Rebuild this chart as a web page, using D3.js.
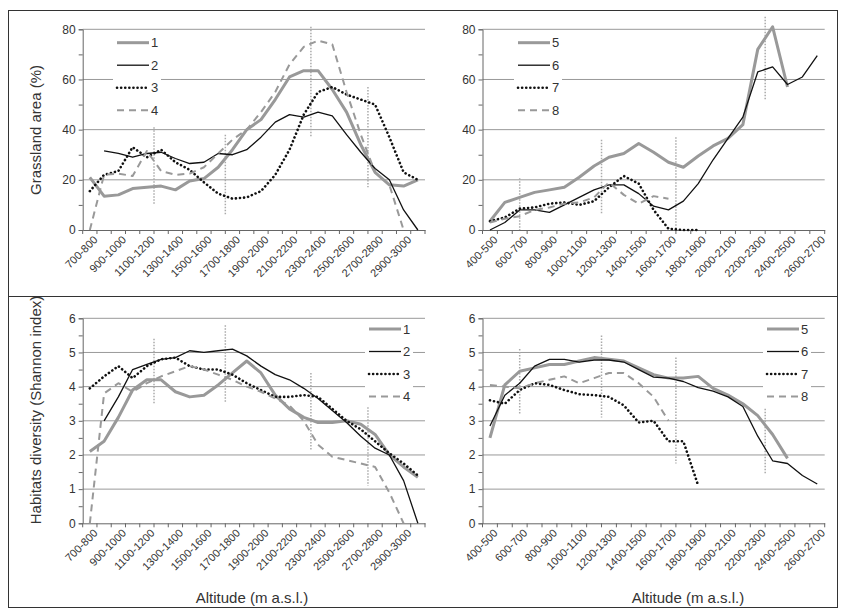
<!DOCTYPE html><html><head><meta charset="utf-8">
<script src="https://cdn.jsdelivr.net/npm/d3@7"></script>
<style>body{margin:0;background:#fff}text{font-family:"Liberation Sans",Arial,sans-serif;fill:#333}</style></head><body>
<svg id="c" width="841" height="611"></svg>
<script>
const catsL=["700-800","800-900","900-1000","1000-1100","1100-1200","1200-1300","1300-1400","1400-1500","1500-1600","1600-1700","1700-1800","1800-1900","1900-2000","2000-2100","2100-2200","2200-2300","2300-2400","2400-2500","2500-2600","2600-2700","2700-2800","2800-2900","2900-3000","3000-3100"];
const catsR=["400-500","500-600","600-700","700-800","800-900","900-1000","1000-1100","1100-1200","1200-1300","1300-1400","1400-1500","1500-1600","1600-1700","1700-1800","1800-1900","1900-2000","2000-2100","2100-2200","2200-2300","2300-2400","2400-2500","2500-2600","2600-2700"];
const g1=[21,13.5,14,16.5,17,17.5,16,19.5,20.5,25,32,40,44,52,61,63.5,63.5,56,47,34,23,18,17.5,20];
const g2=[null,31.5,30.5,29,30.5,31,28.5,26.5,27,30.5,30,32,37,43,46,45,47,45.5,38,31,24.5,20,8,0];
const g3=[15.5,22,23.5,33,29,32,27,24,19,14.5,12.5,13,15.5,22,32,46,55,57,54,52,50,37,23,20];
const g4=[0,22,22.5,21.5,31.5,23.5,22,22.5,25,30.5,36,40,47,55,66,73,75.5,74,55,38,23,18,0];
const g5=[3.5,11,13,15,16,17,21,25.5,29,30.5,34.5,31,27,25,29.5,33.5,36.5,42,72,81,57];
const g6=[0,3,8,8,7,10,13,16,18,18,14.5,9.5,8,11.5,18.5,28,36.5,45,63,65,58,61,69.5];
const g7=[3.5,5,8.5,9,10.5,11,10,11.5,17,21.5,18.5,8,0.5,0,0];
const g8=[3,4.5,5.5,8,9,10.5,11,13,19,14,10.5,13.5,12.5];
const h1=[2.1,2.4,3.1,3.9,4.2,4.2,3.85,3.7,3.75,4.05,4.4,4.75,4.4,3.75,3.35,3.1,2.95,2.95,3.0,2.9,2.6,2.0,1.65,1.35];
const h2=[null,3.0,3.7,4.5,4.65,4.8,4.85,5.05,5.0,5.05,5.1,4.9,4.6,4.35,4.2,3.95,3.65,3.3,2.95,2.55,2.2,2.0,1.25,0];
const h3=[3.95,4.3,4.6,4.25,4.6,4.8,4.85,4.6,4.5,4.5,4.35,4.1,3.9,3.7,3.7,3.75,3.7,3.35,3.0,2.75,2.4,2.05,1.75,1.4];
const h4=[0,3.8,4.1,3.85,4.1,4.3,4.45,4.6,4.5,4.35,4.2,4.0,3.85,3.65,3.45,3.0,2.3,1.95,1.85,1.75,1.65,0.9,0];
const h5=[2.5,4.05,4.45,4.55,4.65,4.65,4.75,4.85,4.8,4.75,4.55,4.35,4.25,4.25,4.3,3.95,3.75,3.5,3.15,2.6,1.9];
const h6=[2.85,3.75,4.1,4.6,4.8,4.8,4.72,4.78,4.78,4.72,4.5,4.28,4.25,4.15,3.97,3.87,3.7,3.42,2.55,1.83,1.75,1.4,1.15];
const h7=[3.6,3.5,3.9,4.1,4.05,3.9,3.78,3.75,3.7,3.45,2.95,3.0,2.4,2.4,1.1];
const h8=[4.05,4.0,3.95,4.1,4.2,4.3,4.1,4.25,4.4,4.4,4.1,3.7,3.0];
const mTL=[[5,41,10],[10,38,6],[16,81,37],[20,57,17]];
const mTR=[[2.5,20.6,0],[8,36,6.5],[13,37,0],[19,85,52]];
const mBL=[[5,5.4,3.5],[10,5.8,3.55],[16,4.4,2.15],[20,3.4,1.1]];
const mBR=[[2.5,5.1,3.2],[8,5.5,3.1],[13,4.85,1.75],[19,3.35,1.45]];

const svg=d3.select("#c");
svg.append("rect").attr("x",8.5).attr("y",10.5).attr("width",829).attr("height",597).attr("fill","none").attr("stroke","#333");
svg.append("line").attr("x1",8.5).attr("x2",837.5).attr("y1",296.5).attr("y2",296.5).attr("stroke","#333");
const styles=[{s:"#999",w:3,d:null},{s:"#111",w:1.3,d:null},{s:"#111",w:2.6,d:"0.1,4",cap:"round"},{s:"#999",w:2,d:"7,5"}];
function panel(o){
 const x=d3.scaleBand().domain(o.cats).range([o.x0,o.x1]);
 const y=d3.scaleLinear().domain([0,o.ymax]).range([o.yb,o.yt]);
 const g=svg.append("g");
 y.ticks(o.nt).forEach(t=>{ if(t>0) g.append("line").attr("x1",o.x0).attr("x2",o.x1).attr("y1",y(t)).attr("y2",y(t)).attr("stroke","#999");});
 const ya=g.append("g").attr("transform",`translate(${o.x0},0)`).call(d3.axisLeft(y).tickValues(d3.range(0,o.ymax+0.001,o.minor)).tickSize(4).tickFormat(d=>Math.abs(d/o.step-Math.round(d/o.step))<1e-6?d:""));
 ya.select(".domain").attr("stroke","#666");ya.selectAll(".tick line").attr("stroke","#666");ya.selectAll("text").style("font-size","12px").attr("fill","#333");
 const xa=g.append("g").attr("transform",`translate(0,${o.yb})`).call(d3.axisBottom(x).tickSize(0).tickFormat((d,i)=>i%2==0?d:""));
 xa.select(".domain").attr("stroke","#666");
 xa.selectAll("text").style("font-size","11px").attr("text-anchor","end").attr("transform","translate(4,6) rotate(-45)").attr("dy","0.3em").attr("dx","0");
 o.cats.concat([null]).forEach((c,i)=>{const px=o.x0+i*x.bandwidth();g.append("line").attr("x1",px).attr("x2",px).attr("y1",o.yb).attr("y2",o.yb+4).attr("stroke","#666");});
 o.marks.forEach(m=>{const px=o.x0+m[0]*x.bandwidth();g.append("line").attr("x1",px).attr("x2",px).attr("y1",y(m[1])).attr("y2",y(m[2])).attr("stroke","#aaa").attr("stroke-width",1.5).attr("stroke-dasharray","1.5,1.5");});
 const lg=g.append("g");
 lg.append("rect").attr("x",o.lx-4).attr("y",o.ly-10).attr("width",48).attr("height",78).attr("fill","#fff");
 o.series.forEach((s,k)=>{
  const st=styles[k];
  const line=d3.line().defined(v=>v!=null).x((v,i)=>x(o.cats[i])+x.bandwidth()/2).y(v=>y(v));
  g.append("path").datum(s).attr("d",line).attr("fill","none").attr("stroke",st.s).attr("stroke-width",st.w).attr("stroke-dasharray",st.d).attr("stroke-linecap",st.cap||"butt").attr("stroke-linejoin","round");
  const ly=o.ly+k*22.5;
  lg.append("line").attr("x1",o.lx).attr("x2",o.lx+32).attr("y1",ly).attr("y2",ly).attr("stroke",st.s).attr("stroke-width",st.w).attr("stroke-dasharray",st.d).attr("stroke-linecap",st.cap||"butt");
  lg.append("text").attr("x",o.lx+34).attr("y",ly+4.5).style("font-size","13px").text(o.labels[k]);
 });
 return g;
}
panel({cats:catsL,x0:82.7,x1:425,yt:29.3,yb:230,ymax:80,nt:4,minor:10,step:20,marks:mTL,series:[g1,g2,g3,g4],labels:["1","2","3","4"],lx:117,ly:42.7});
panel({cats:catsR,x0:482.5,x1:824.7,yt:29.3,yb:230,ymax:80,nt:4,minor:10,step:20,marks:mTR,series:[g5,g6,g7,g8],labels:["5","6","7","8"],lx:518,ly:42.7});
panel({cats:catsL,x0:82.7,x1:425,yt:318.3,yb:523.3,ymax:6,nt:6,minor:0.5,step:1,marks:mBL,series:[h1,h2,h3,h4],labels:["1","2","3","4"],lx:369,ly:329});
panel({cats:catsR,x0:482.5,x1:824.7,yt:318.3,yb:523.3,ymax:6,nt:6,minor:0.5,step:1,marks:mBR,series:[h5,h6,h7,h8],labels:["5","6","7","8"],lx:767,ly:329});
svg.append("text").attr("transform","translate(41,130) rotate(-90)").attr("text-anchor","middle").style("font-size","15px").text("Grassland area (%)");
svg.append("text").attr("transform","translate(41,410) rotate(-90)").attr("text-anchor","middle").style("font-size","15px").text("Habitats diversity (Shannon index)");
svg.append("text").attr("x",252).attr("y",603).attr("text-anchor","middle").style("font-size","15px").text("Altitude (m a.s.l.)");
svg.append("text").attr("x",688).attr("y",603).attr("text-anchor","middle").style("font-size","15px").text("Altitude (m a.s.l.)");
</script></body></html>
